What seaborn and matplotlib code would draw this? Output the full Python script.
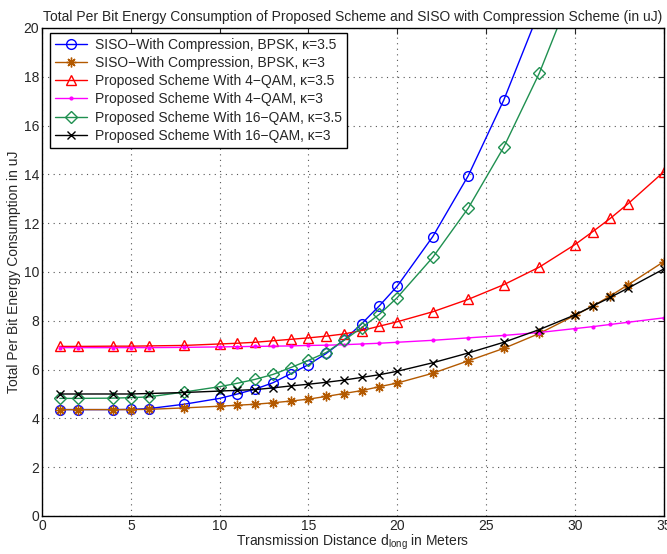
import numpy as np
import pandas as pd
import matplotlib
matplotlib.use("Agg")
import matplotlib.pyplot as plt
import seaborn as sns

# distances (m)
dist = [1, 2, 4, 5, 6, 8, 10, 11, 12, 13, 14, 15, 16, 17, 18, 19, 20,
        22, 24, 26, 28, 30, 31, 32, 33, 35]

siso_bpsk_35 = [4.36, 4.36, 4.36, 4.37, 4.40, 4.58, 4.82, 5.00, 5.20, 5.46,
                5.83, 6.20, 6.66, 7.21, 7.88, 8.62, 9.42, 11.45, 13.95, 17.05, 20.7]
siso_bpsk_3 = [4.36, 4.36, 4.36, 4.36, 4.37, 4.43, 4.50, 4.54, 4.58, 4.64,
               4.71, 4.79, 4.90, 5.02, 5.14, 5.30, 5.45, 5.85, 6.36, 6.87,
               7.48, 8.22, 8.60, 9.02, 9.48, 10.42]
qam4_35 = [6.95, 6.95, 6.96, 6.96, 6.97, 6.99, 7.05, 7.08, 7.12, 7.18,
           7.24, 7.30, 7.37, 7.46, 7.60, 7.78, 7.96, 8.37, 8.88, 9.48,
           10.20, 11.12, 11.65, 12.20, 12.80, 14.10]
qam4_3 = [6.90, 6.90, 6.90, 6.90, 6.90, 6.91, 6.93, 6.94, 6.95, 6.96,
          6.97, 6.99, 7.00, 7.02, 7.05, 7.08, 7.12, 7.20, 7.30, 7.40,
          7.52, 7.68, 7.76, 7.85, 7.94, 8.12]
qam16_35 = [4.82, 4.82, 4.83, 4.85, 4.88, 5.08, 5.30, 5.44, 5.60, 5.80,
            6.08, 6.38, 6.70, 7.20, 7.72, 8.27, 8.95, 10.60, 12.62, 15.12,
            18.15, 21.8]
qam16_3 = [5.00, 5.00, 5.00, 5.00, 5.02, 5.06, 5.12, 5.15, 5.18, 5.25,
           5.33, 5.40, 5.48, 5.57, 5.68, 5.79, 5.93, 6.28, 6.68, 7.12,
           7.64, 8.24, 8.60, 8.96, 9.34, 10.12]

series = [
    ("SISO\u2212With Compression, BPSK, \u03ba=3.5", siso_bpsk_35, "#0000ff", "o", 7),
    ("SISO\u2212With Compression, BPSK, \u03ba=3", siso_bpsk_3, "#b35900", (8, 2, 0), 7),
    ("Proposed Scheme With 4\u2212QAM, \u03ba=3.5", qam4_35, "#ff0000", "^", 7),
    ("Proposed Scheme With 4\u2212QAM, \u03ba=3", qam4_3, "#ff00ff", ".", 4),
    ("Proposed Scheme With 16\u2212QAM, \u03ba=3.5", qam16_35, "#1f9050", "D", 6),
    ("Proposed Scheme With 16\u2212QAM, \u03ba=3", qam16_3, "#000000", "x", 5.5),
]

sns.set_style("white")
plt.rcParams["font.family"] = ["Liberation Sans", "DejaVu Sans"]
plt.rcParams["mathtext.default"] = "regular"

fig, ax = plt.subplots(figsize=(6.67, 5.54), dpi=100)
fig.subplots_adjust(left=0.063, right=0.995, top=0.9495, bottom=0.0686)

for name, vals, color, marker, ms in series:
    df = pd.DataFrame({"d": dist[:len(vals)], "e": vals})
    sns.lineplot(data=df, x="d", y="e", ax=ax, color=color, marker=marker,
                 markersize=ms, markerfacecolor=color if marker == "." else "none",
                 markeredgecolor=color, markeredgewidth=1.0, linewidth=1.0,
                 label=name, errorbar=None, sort=True)

ax.set_xlim(0, 35)
ax.set_ylim(0, 20)
ax.set_xticks(np.arange(0, 36, 5))
ax.set_yticks(np.arange(0, 21, 2))
ax.grid(True, linestyle=(0, (1, 4)), color="#555555", linewidth=0.8)
ax.tick_params(direction="in", top=True, right=True, labelsize=10, length=4,
               pad=2)
for sp in ax.spines.values():
    sp.set_color("black")
    sp.set_linewidth(1.0)

ax.set_title("Total Per Bit Energy Consumption of Proposed Scheme and SISO with Compression Scheme (in uJ)",
             fontsize=10, pad=5)
ax.set_xlabel("Transmission Distance d$_{long}$ in Meters", fontsize=10, labelpad=0)
ax.set_ylabel("Total Per Bit Energy Consumption in uJ", fontsize=10, labelpad=2)

leg = ax.legend(loc="upper left", bbox_to_anchor=(8 / 621, 1 - 5 / 488),
                borderaxespad=0, fontsize=10, frameon=True, fancybox=False,
                framealpha=1, edgecolor="black",
                handlelength=2.3, labelspacing=0.3, borderpad=0.35,
                handletextpad=0.6)
leg.get_frame().set_linewidth(1.0)

fig.savefig("out.png", dpi=100)
